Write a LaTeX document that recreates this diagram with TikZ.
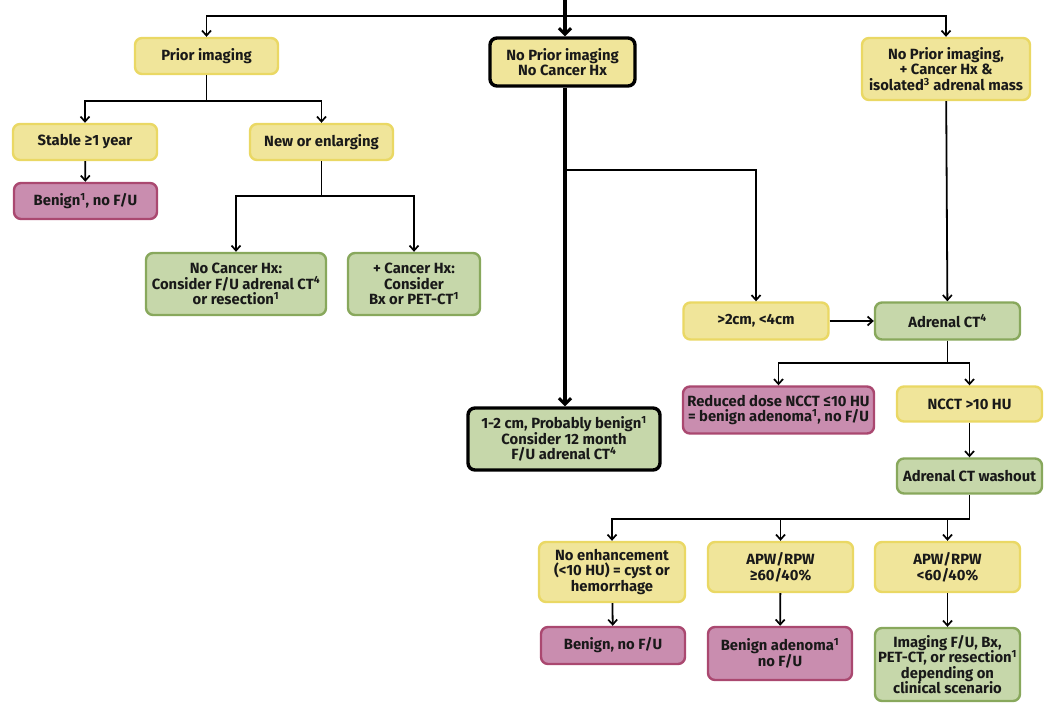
\documentclass[tikz,border=0pt]{standalone}
\usepackage{fontspec}
\setmainfont{Fira Sans}
\usetikzlibrary{arrows.meta}
\newcommand{\fnote}[1]{\textsuperscript{#1}}

\begin{document}
\begin{tikzpicture}[x=1pt,y=1pt,
  box/.style={rounded corners=7pt,line width=2.4pt,align=center,inner sep=1pt,
    font=\fontsize{14.8}{15.6}\selectfont\bfseries,text=textColor},
  ybox/.style={box,draw=yDraw,fill=yFill},
  gbox/.style={box,draw=gDraw,fill=gFill},
  pbox/.style={box,draw=pDraw,fill=pFill},
  kbox/.style={box,draw=black,line width=3.4pt},
  link/.style={line width=1.8pt,-{Straight Barb[length=5pt,width=9pt,line width=1.7pt]}},
  thicklink/.style={line width=4pt,-{Straight Barb[length=6pt,width=12pt,line width=3pt]}}]
\definecolor{textColor}{RGB}{25,25,25}
\definecolor{yFill}{RGB}{240,229,154}
\definecolor{yDraw}{RGB}{234,216,100}
\definecolor{gFill}{RGB}{198,215,170}
\definecolor{gDraw}{RGB}{136,168,92}
\definecolor{pFill}{RGB}{201,141,175}
\definecolor{pDraw}{RGB}{170,72,112}
\path[use as bounding box,fill=white] (0,0) rectangle (1062,705);

% top row
\node[ybox,minimum width=143pt,minimum height=36pt] (prior) at (206.5,649) {Prior imaging};
\node[kbox,fill=yFill,minimum width=145pt,minimum height=48pt] (noprior) at (562.5,643) {No Prior imaging\\No Cancer Hx};
\node[ybox,minimum width=168pt,minimum height=62pt] (cancer) at (946,636) {No Prior imaging,\\+ Cancer Hx \&\\isolated\fnote{3} adrenal mass};

% prior imaging branch
\node[ybox,minimum width=144pt,minimum height=36pt] (stable) at (85,563) {Stable ≥1 year};
\node[ybox,minimum width=143pt,minimum height=36pt] (newenl) at (321.5,563) {New or enlarging};
\node[pbox,minimum width=143pt,minimum height=36pt] (benignA) at (85.5,504) {Benign\fnote{1}, no F/U};
\node[gbox,minimum width=180pt,minimum height=62pt] (nocx) at (236,421) {No Cancer Hx:\\Consider F/U adrenal CT\fnote{4}\\or resection\fnote{1}};
\node[gbox,minimum width=132pt,minimum height=62pt] (pluscx) at (414,421) {+ Cancer Hx:\\Consider\\Bx or PET-CT\fnote{1}};

% no prior imaging branch
\node[kbox,fill=gFill,minimum width=192pt,minimum height=62pt] (onetwo) at (564,266) {1-2 cm, Probably benign\fnote{1}\\Consider 12 month\\F/U adrenal CT\fnote{4}};
\node[ybox,minimum width=145pt,minimum height=37pt] (midsize) at (756,384) {>2cm, <4cm};
\node[gbox,minimum width=145pt,minimum height=37pt] (adrct) at (947.5,384) {Adrenal CT\fnote{4}};
\node[pbox,minimum width=191pt,minimum height=47pt] (reduced) at (778.5,295) {Reduced dose NCCT ≤10 HU\\= benign adenoma\fnote{1}, no F/U};
\node[ybox,minimum width=145pt,minimum height=35pt] (nccthi) at (969.5,301) {NCCT >10 HU};
\node[gbox,minimum width=145pt,minimum height=35pt] (washout) at (969.5,229) {Adrenal CT washout};

% washout results
\node[ybox,minimum width=146pt,minimum height=60pt] (noenh) at (612,133) {No enhancement\\(<10 HU) = cyst or\\hemorrhage};
\node[ybox,minimum width=145pt,minimum height=50pt] (apwhi) at (780.5,138) {APW/RPW\\≥60/40\%};
\node[ybox,minimum width=145pt,minimum height=50pt] (apwlo) at (947.5,138) {APW/RPW\\<60/40\%};
\node[pbox,minimum width=144pt,minimum height=37pt] (benignB) at (613,59.5) {Benign, no F/U};
\node[pbox,minimum width=144pt,minimum height=53pt] (benignC) at (780,51.5) {Benign adenoma\fnote{1}\\no F/U};
\node[gbox,minimum width=145pt,minimum height=73pt] (imaging) at (947.5,40.5) {Imaging F/U, Bx,\\PET-CT, or resection\fnote{1}\\depending on\\clinical scenario};

% connectors
\coordinate (entry) at (565,705);
\coordinate (fork) at (565,689);
\draw[thicklink] (entry) -- (noprior.north -| entry);
\draw[link] (fork) -| (prior.north);
\draw[link] (fork) -| (cancer.north);

\draw[line width=1.8pt] (prior.south) -- ++(0,-26) coordinate (priorfork);
\draw[link] (priorfork) -| (stable.north);
\draw[link] (priorfork) -| (newenl.north);
\draw[link] (stable) -- (benignA);
\draw[line width=1.8pt] (newenl.south) -- ++(0,-35) coordinate (newfork);
\draw[link] (newfork) -| (nocx.north);
\draw[link] (newfork) -| (pluscx.north);

\draw[thicklink] (noprior.south -| entry) -- (onetwo.north -| entry);
\coordinate (sizefork) at (565,535);
\draw[link] (sizefork) -| (midsize.north);
\draw[link] (midsize) -- (adrct);
\draw[link] (cancer) -- (adrct);
\draw[line width=1.8pt] (adrct.south) -- ++(0,-22) coordinate (ctfork);
\draw[link] (ctfork) -| (reduced.north);
\draw[link] (ctfork) -| (nccthi.north);
\draw[link] (nccthi) -- (washout);
\draw[line width=1.8pt] (washout.south) -- ++(0,-24) coordinate (wfork);
\draw[link] (wfork) -| (noenh.north);
\draw[link] (wfork) -| (apwhi.north);
\draw[link] (wfork) -| (apwlo.north);
\draw[link] (noenh) -- (benignB);
\draw[link] (apwhi) -- (benignC);
\draw[link] (apwlo) -- (imaging);
\end{tikzpicture}
\end{document}
